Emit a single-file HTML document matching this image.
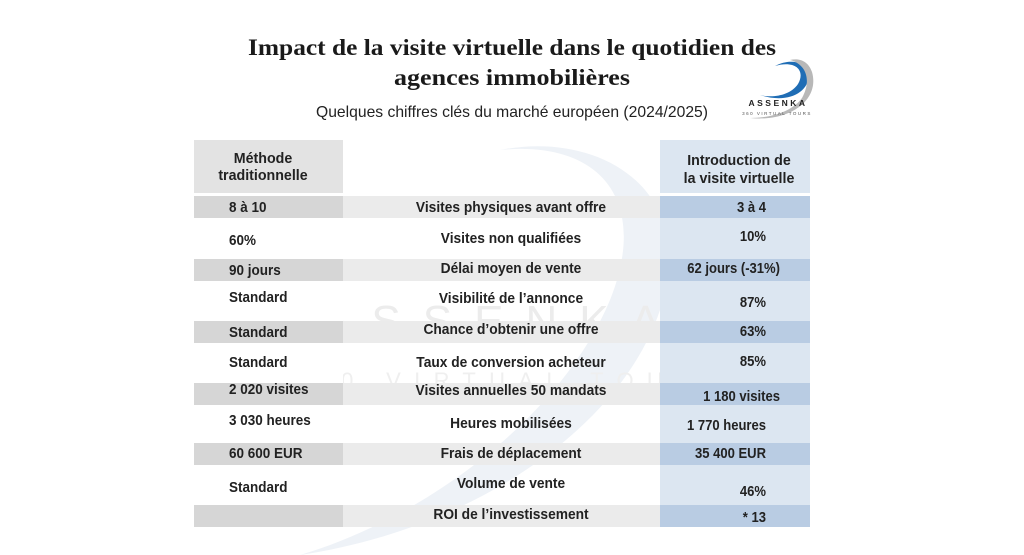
<!DOCTYPE html>
<html><head><meta charset="utf-8"><style>
html,body{margin:0;padding:0;background:#fff;}
svg{display:block;}
</style></head><body>
<svg width="1024" height="555" viewBox="0 0 1024 555" font-family="Liberation Sans, sans-serif">
  <g>
    <path d="M300,555 C420,520 560,420 610,300 C650,200 600,140 500,150 C600,130 700,190 660,310 C620,430 470,530 300,555Z" fill="#eef2f7"/>
    <text x="490" y="336" text-anchor="middle" font-size="44" fill="#ececec" textLength="340" lengthAdjust="spacing">ASSENKA</text>
    <text x="505" y="388" text-anchor="middle" font-size="22" fill="#efefef" textLength="430" lengthAdjust="spacing">360 VIRTUAL TOURS</text>
  </g>

  <text x="512" y="55" text-anchor="middle" style="font-family:'Liberation Serif',serif" font-weight="bold" font-size="23" fill="#1a1a1a" textLength="528" lengthAdjust="spacingAndGlyphs">Impact de la visite virtuelle dans le quotidien des</text>
  <text x="512" y="85" text-anchor="middle" style="font-family:'Liberation Serif',serif" font-weight="bold" font-size="23" fill="#1a1a1a" textLength="236" lengthAdjust="spacingAndGlyphs">agences immobilières</text>
  <text x="512" y="117" text-anchor="middle" font-size="16" fill="#222" textLength="392" lengthAdjust="spacingAndGlyphs">Quelques chiffres clés du marché européen (2024/2025)</text>

  <g>
    <path d="M760,95 C790,105 812,90 808,72 C805,62 790,58 775,66 C795,60 806,70 798,84 C790,96 772,98 760,95Z" fill="#1f6db5"/>
    <path d="M750,118 C790,122 820,100 812,72 C808,60 798,58 790,60 C806,64 812,80 802,98 C792,112 770,118 750,118Z" fill="#b8b8b8"/>
    <text x="778" y="106" text-anchor="middle" font-size="8.5" font-weight="bold" letter-spacing="2.5" fill="#222">ASSENKA</text>
    <text x="777" y="115" text-anchor="middle" font-size="4.5" letter-spacing="1.5" fill="#555">360 VIRTUAL TOURS</text>
  </g>

  <rect x="194" y="140" width="149" height="53" fill="#e3e3e3"/>
  <rect x="660" y="140" width="150" height="53" fill="#dce6f1"/>
  <g font-weight="bold" font-size="15" fill="#222">
    <text x="263" y="163" text-anchor="middle" transform="translate(263,0) scale(0.95,1) translate(-263,0)">Méthode</text>
    <text x="263" y="180" text-anchor="middle" transform="translate(263,0) scale(0.95,1) translate(-263,0)">traditionnelle</text>
    <text x="739" y="165" text-anchor="middle" transform="translate(739,0) scale(0.95,1) translate(-739,0)">Introduction de</text>
    <text x="739" y="183" text-anchor="middle" transform="translate(739,0) scale(0.95,1) translate(-739,0)">la visite virtuelle</text>
  </g>
  <g id="rows"></g>
</svg>
<script>
const labels=["Visites physiques avant offre","Visites non qualifiées","Délai moyen de vente","Visibilité de l’annonce","Chance d’obtenir une offre","Taux de conversion acheteur","Visites annuelles 50 mandats","Heures mobilisées","Frais de déplacement","Volume de vente","ROI de l’investissement"];
const traditional=["8 à 10","60%","90 jours","Standard","Standard","Standard","2 020 visites","3 030 heures","60 600 EUR","Standard",""];
const virtualValues=["3 à 4","10%","62 jours (-31%)","87%","63%","85%","1 180 visites","1 770 heures","35 400 EUR","46%","* 13"];
const rowTops=[196,218,259,281,321,343,383,405,443,465,505];
const rowBottoms=[218,259,281,321,343,383,405,443,465,505,527];
const leftY=[212,245,275,302,337,367,394,425,458,492,0];
const midY=[212,243,273,303,334,367,395,428,458,488,519];
const rightY=[212,241,273,307,336,366,401,430,458,496,522];
const NS="http://www.w3.org/2000/svg";
const g=document.getElementById('rows');
function mk(tag,attrs){const e=document.createElementNS(NS,tag);for(const k in attrs)e.setAttribute(k,attrs[k]);return e;}
function txt(x,y,s,anchor,name,sx){
  const t=mk('text',{x:x,y:y,'text-anchor':anchor,'font-size':14.5,'font-weight':'bold',fill:'#222',transform:`translate(${x},0) scale(${sx},1) translate(${-x},0)`});
  
  
  t.textContent=s;g.appendChild(t);
}
labels.forEach((lab,i)=>{
  const y=rowTops[i],h=rowBottoms[i]-rowTops[i],shade=i%2===0;
  const l=mk('rect',{x:194,y:y,width:149,height:h,fill:shade?'#d6d6d6':'#ffffff'});
  
  
  g.appendChild(l);
  const m=mk('rect',{x:343,y:y,width:317,height:h,fill:shade?'#ebebeb':'rgba(255,255,255,0)'});
  
  
  g.appendChild(m);
  const r=mk('rect',{x:660,y:y,width:150,height:h,fill:shade?'#b9cce3':'#dce6f1'});
  
  
  g.appendChild(r);
  if(traditional[i]) txt(229,leftY[i],traditional[i],'start','traditional-value',0.93);
  txt(511,midY[i],lab,'middle','row-label',0.95);
  const long=virtualValues[i].length>12;
  txt(long?780:766,rightY[i],virtualValues[i],'end','virtual-value',0.9);
});
</script>
</body></html>
